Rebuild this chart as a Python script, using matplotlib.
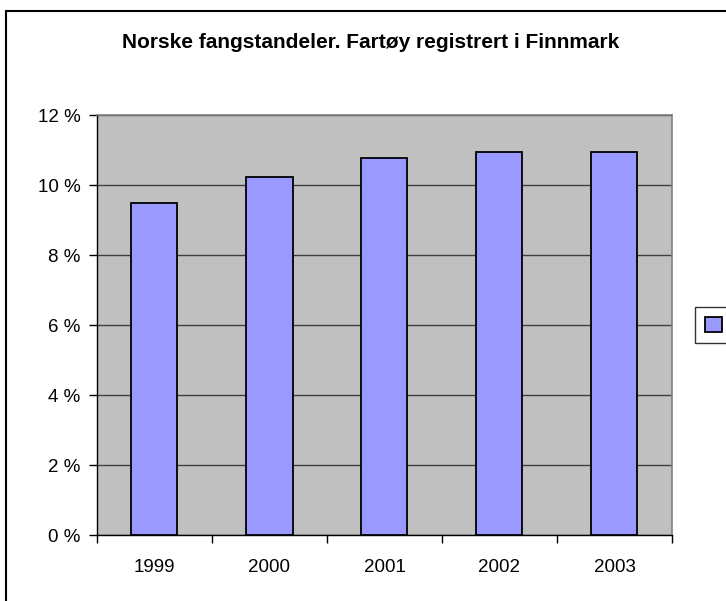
import numpy as np
import matplotlib
matplotlib.use("Agg")
from matplotlib import pyplot as plt
from matplotlib.patches import Rectangle

plt.rcParams['font.family'] = ['Liberation Sans', 'DejaVu Sans']

# data (percent)
years = ['1999', '2000', '2001', '2002', '2003']
shares = [9.5, 10.23, 10.78, 10.95, 10.95]
y_ticks = [0, 2, 4, 6, 8, 10, 12]

fig = plt.figure(figsize=(7.26, 6.01), dpi=100)
ax = fig.add_axes([97 / 726, 1 - 535 / 601, 575 / 726, 420 / 601])
ax.set_facecolor('#C0C0C0')

x = np.arange(len(years))
bars = ax.bar(x, shares, width=0.4, color='#9999FF', edgecolor='black',
              linewidth=1.3, zorder=3, label=' ')

ax.set_xlim(-0.5, len(years) - 0.5)
ax.set_ylim(0, 12)
ax.set_yticks(y_ticks)
ax.set_yticklabels(['%d %%' % v for v in y_ticks])
ax.yaxis.grid(True, color='#404040', linewidth=1.0, zorder=1)

ax.set_xticks(x)
ax.set_xticklabels(years)
ax.set_xticks(np.arange(len(years) + 1) - 0.5, minor=True)
ax.tick_params(axis='x', which='major', length=0, pad=17, labelsize=13.5)
ax.tick_params(axis='x', which='minor', length=6, width=1, direction='out')
ax.tick_params(axis='y', length=6, width=1, direction='out', pad=6, labelsize=13.5)

for s in ['top', 'right']:
    ax.spines[s].set_color('#808080')
    ax.spines[s].set_linewidth(1.2)
for s in ['left', 'bottom']:
    ax.spines[s].set_color('black')
    ax.spines[s].set_linewidth(1.0)

fig.text(371 / 726, 1 - 48 / 601, 'Norske fangstandeler. Fartøy registrert i Finnmark',
         ha='center', va='baseline', fontsize=15, fontweight='bold')

# legend with an empty label, partly outside the picture
leg = fig.legend(handles=[bars], labels=[' '], loc='center left',
                 bbox_to_anchor=(695 / 726, 1 - 325 / 601), borderaxespad=0,
                 frameon=True, fancybox=False, edgecolor='black',
                 handlelength=1.0, handleheight=1.0, borderpad=0.6, fontsize=12)
leg.get_frame().set_linewidth(1.0)

# chart area border
fig.patches.append(Rectangle((6 / 726, -0.1), 1.2, 1.1 - 11 / 601,
                             transform=fig.transFigure, fill=False,
                             edgecolor='black', linewidth=1.5, clip_on=False))

fig.savefig('out.png', dpi=100)
